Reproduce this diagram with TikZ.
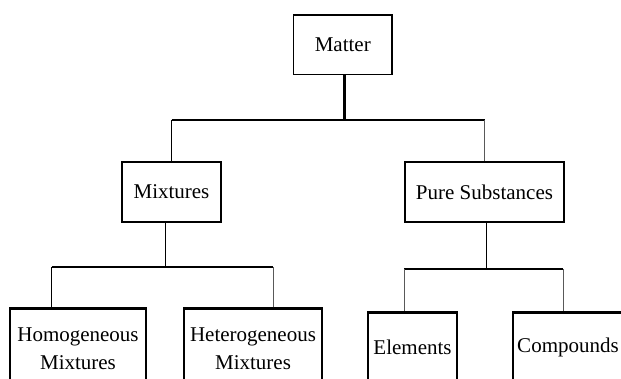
\documentclass[tikz,border=0pt]{standalone}
\usepackage{fontspec}
\setmainfont{Liberation Serif}

\begin{document}
\begin{tikzpicture}[x=1pt, y=-1pt,
  box/.style={draw, line width=1.5pt, inner sep=0pt, align=center,
    font=\fontsize{21}{28}\selectfont},
  leaf/.style={box, line width=2.5pt, anchor=north},
  bus/.style={line width=2pt},
  thinl/.style={line width=1.2pt},
  thinr/.style={line width=0.9pt, draw=black!65}]
\useasboundingbox (0,0) rectangle (621,378);
\clip (0,0) rectangle (621,378);

%\draw[very thin,color=gray] (0,0) grid[step=50] (621,378);
\node[box, minimum width=98.5pt, minimum height=59.7pt] (matter) at (342.75,44.85) {Matter};

\node[box, minimum width=99pt, minimum height=60pt] (mix) at (171.5,192) {Mixtures};
\node[box, minimum width=159pt, minimum height=60pt] (pure) at (484.5,192) {Pure Substances};

\node[leaf, minimum width=136pt, minimum height=81pt] (homo) at (78,307.3) {Homogeneous\\Mixtures};
\node[leaf, minimum width=138pt, minimum height=81pt] (hetero) at (253,307.3) {Heterogeneous\\Mixtures};
\node[leaf, minimum width=89pt, minimum height=71pt] (elem) at (412.5,311) {Elements};
\node[leaf, minimum width=110pt, minimum height=71pt] (comp) at (568,311) {Compounds};

% matter -> mixtures / pure substances
\coordinate (mattop) at ([xshift=2pt]matter.south);
\path (mattop) ++(0,44.3) coordinate (topbus);
\draw[line width=3pt] (mattop) -- (topbus);
\draw[bus] (mix.north |- topbus) -- (pure.north |- topbus);
\draw[thinl] (mix.north) -- (mix.north |- topbus);
\draw[thinr] (pure.north) -- (pure.north |- topbus);

% mixtures -> homogeneous / heterogeneous
\coordinate (mixbot) at ([xshift=-6pt]mix.south);
\path (mixbot) ++(0,44.7) coordinate (mixbus);
\coordinate (homotop) at ([xshift=-26.5pt]homo.north);
\coordinate (heterotop) at ([xshift=20pt]hetero.north);
\draw[thinl] (mixbot) -- (mixbus);
\draw[bus] (homotop |- mixbus) -- (heterotop |- mixbus);
\draw[thinl] (homotop) -- (homotop |- mixbus);
\draw[thinr] (heterotop) -- (heterotop |- mixbus);

% pure substances -> elements / compounds
\coordinate (purebot) at ([xshift=1.8pt]pure.south);
\path (purebot) ++(0,46.7) coordinate (purebus);
\coordinate (elemtop) at ([xshift=-8.5pt]elem.north);
\coordinate (comptop) at ([xshift=-5pt]comp.north);
\draw[thinl] (purebot) -- (purebus);
\draw[bus] (elemtop |- purebus) -- (comptop |- purebus);
\draw[thinr] (elemtop) -- (elemtop |- purebus);
\draw[thinr] (comptop) -- (comptop |- purebus);

\end{tikzpicture}
\end{document}
